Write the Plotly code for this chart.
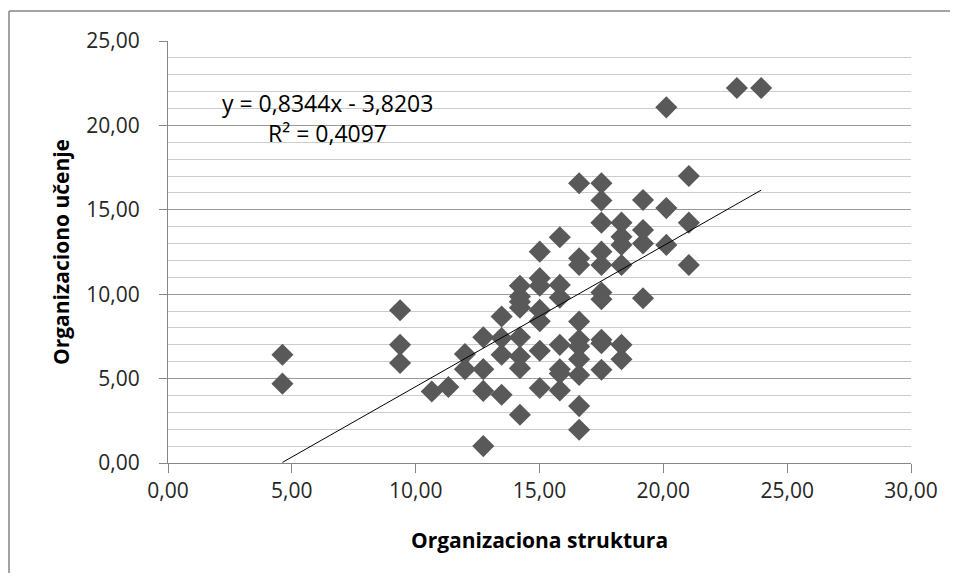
import plotly.graph_objects as go

# ---- data ----
struktura = (
    [4.62, 4.62]
    + [9.37, 9.37, 9.37]
    + [10.65]
    + [11.32]
    + [11.99, 11.99]
    + [12.73] * 4
    + [13.47] * 4
    + [14.21] * 8
    + [15.01] * 7
    + [15.82] * 7
    + [16.60] * 10
    + [17.50] * 10
    + [18.31] * 6
    + [19.18] * 4
    + [20.12] * 3
    + [21.03] * 3
    + [22.97, 23.95]
)
ucenje = (
    [6.41, 4.70]
    + [9.05, 7.00, 5.92]
    + [4.24]
    + [4.50]
    + [6.45, 5.56]
    + [7.45, 5.56, 4.27, 1.00]
    + [8.68, 7.40, 6.41, 4.04]
    + [10.50, 9.86, 9.56, 9.20, 7.45, 6.31, 5.62, 2.86]
    + [12.52, 10.95, 10.50, 9.07, 8.40, 6.65, 4.44]
    + [13.37, 10.55, 9.80, 7.00, 5.55, 5.30, 4.30]
    + [16.57, 12.13, 11.73, 8.38, 7.30, 6.90, 6.15, 5.22, 3.37, 1.97]
    + [16.57, 15.55, 14.24, 12.52, 11.73, 10.10, 9.70, 7.30, 7.10, 5.52]
    + [14.24, 13.40, 12.92, 11.73, 7.00, 6.15]
    + [15.58, 13.80, 13.00, 9.76]
    + [21.07, 15.10, 12.92]
    + [17.00, 14.24, 11.73]
    + [22.22, 22.22]
)
slope = 0.8344
intercept = -3.8203
r2 = 0.4097
x_title = "Organizaciona struktura"
y_title = "Organizaciono učenje"

FONT = "Open Sans, Noto Sans, sans-serif"

fig = go.Figure()
fig.add_trace(go.Scatter(
    x=struktura, y=ucenje, mode="markers",
    marker=dict(symbol="diamond", size=17, color="#595959", line=dict(width=0)),
    showlegend=False, hoverinfo="x+y",
))
x0, x1 = min(struktura), max(struktura)
fig.add_trace(go.Scatter(
    x=[x0, x1], y=[slope * x0 + intercept, slope * x1 + intercept],
    mode="lines", line=dict(color="#000000", width=1), showlegend=False,
))

eq1 = "y = {}x - {}".format(f"{slope:.4f}".replace(".", ","), f"{abs(intercept):.4f}".replace(".", ","))
eq2 = "R² = {}".format(f"{r2:.4f}".replace(".", ","))
fig.add_annotation(x=6.42, y=21.32, text=eq1, showarrow=False,
                   font=dict(family=FONT, size=23, color="#000000"))
fig.add_annotation(x=6.42, y=19.54, text=eq2, showarrow=False,
                   font=dict(family=FONT, size=23, color="#000000"))

# page has an 8px body margin; figure sized to fit inside the window without scrolling
W, H = 942, 565
L, R, T, B = 160, 39, 33, 110
pw, ph = W - L - R, H - T - B
bx, by = 1, 3  # border left / top in figure pixels
fig.add_shape(type="line", xref="paper", yref="paper",
              x0=(bx - L) / pw, x1=(bx - L) / pw, y0=(H - B - 600) / ph, y1=(H - B - by) / ph,
              line=dict(color="#868686", width=1.5))
fig.add_shape(type="line", xref="paper", yref="paper",
              x0=(bx - L) / pw, x1=(1000 - L) / pw, y0=(H - B - by) / ph, y1=(H - B - by) / ph,
              line=dict(color="#868686", width=1.5))

fig.update_layout(
    width=W, height=H,
    margin=dict(l=L, r=R, t=T, b=B),
    paper_bgcolor="white", plot_bgcolor="white",
    separators=",.",
    font=dict(family=FONT, color="#262626"),
)
fig.update_xaxes(
    range=[0, 30], tick0=0, dtick=5, tickformat=".2f",
    showgrid=False, zeroline=False,
    showline=True, linecolor="#868686", linewidth=1,
    ticks="outside", ticklen=9, tickcolor="#868686",
    tickfont=dict(family=FONT, size=21, color="#262626"),
    title=dict(text="<b>" + x_title + "</b>", font=dict(family=FONT, size=21, color="#000000"), standoff=30),
)
fig.update_yaxes(
    range=[0, 25], tick0=0, dtick=5, tickformat=".2f",
    showgrid=True, gridcolor="#9a9a9a", gridwidth=1,
    minor=dict(dtick=1, showgrid=True, gridcolor="#cccccc", gridwidth=1),
    zeroline=False,
    showline=True, linecolor="#868686", linewidth=1,
    ticks="outside", ticklen=8, tickcolor="#868686", ticklabelstandoff=15,
    tickfont=dict(family=FONT, size=21, color="#262626"),
    title=dict(text="<b>" + y_title + "</b>", font=dict(family=FONT, size=21, color="#000000"), standoff=10),
)

fig.write_html("out.html")
